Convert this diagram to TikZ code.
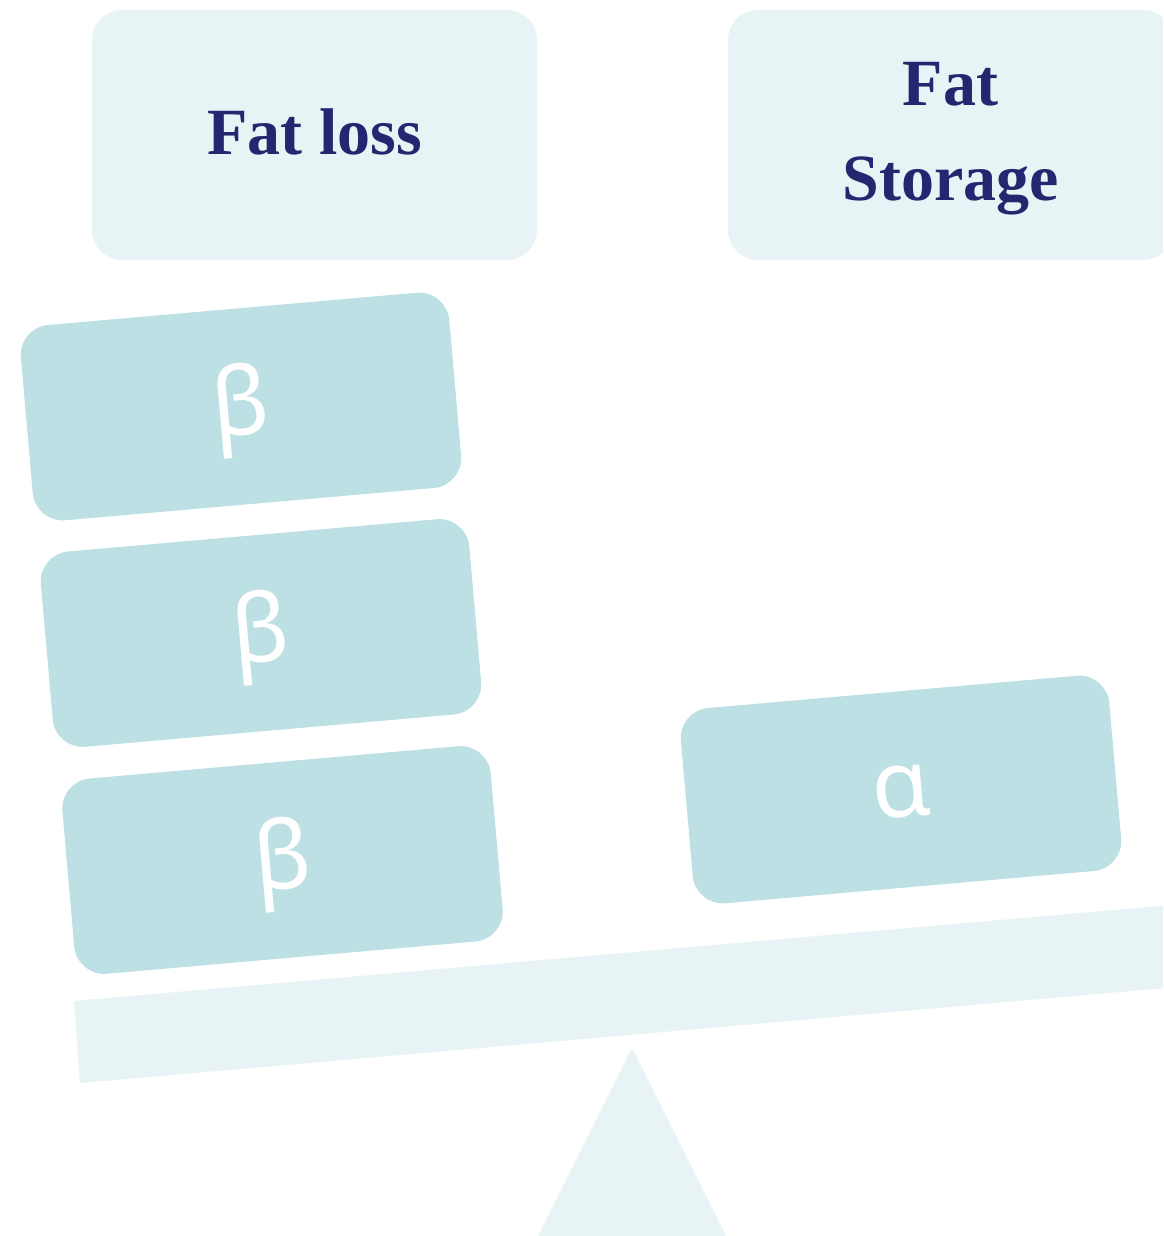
\documentclass[tikz,border=0pt]{standalone}
\usepackage{fontspec}
\setmainfont{Liberation Serif}
\newfontfamily\greekfont{Noto Sans}
\definecolor{boxlight}{HTML}{E7F3F4}
\definecolor{blockc}{HTML}{BCE0E3}
\definecolor{navy}{HTML}{262670}
\begin{document}
\begin{tikzpicture}[x=1pt,y=-1pt,
  header/.style={fill=boxlight, rounded corners=30pt, minimum width=445pt, minimum height=250pt,
    text=navy, font=\fontsize{66}{95}\selectfont\bfseries, align=center, inner sep=0pt,
    text depth=0pt},
  weight/.style={fill=blockc, rounded corners=30pt, minimum width=430pt, minimum height=196pt,
    text=white, font=\greekfont\fontsize{94}{94}\selectfont, inner sep=0pt, rotate=5,
    text depth=0pt},
  support/.style={fill=boxlight}]
\clip (0,0) rectangle (1163,1236);
\fill[white] (0,0) rectangle (1163,1236);
% headers
\node[header, text height=38pt] (loss) at (314.5,135) {Fat loss};
\node[header, text height=130pt] (storage) at (950.5,135) {Fat\\Storage};
% beam and pivot
\fill[support, rounded corners=2pt] (74,1001) -- (1200,902.5) -- (1200,985) -- (80,1083) -- cycle;
\fill[support, rounded corners=3pt] (632,1048) -- (738,1260) -- (526,1260) -- cycle;
% weights
\node[weight, text height=58pt] (b1) at (241,406.5) {β};
\node[weight, text height=58pt] (b2) at (261,633) {β};
\node[weight, text height=58pt] (b3) at (282.5,860) {β};
\node[weight, text height=55pt] (a1) at (901,789.5) {α};
\end{tikzpicture}
\end{document}
